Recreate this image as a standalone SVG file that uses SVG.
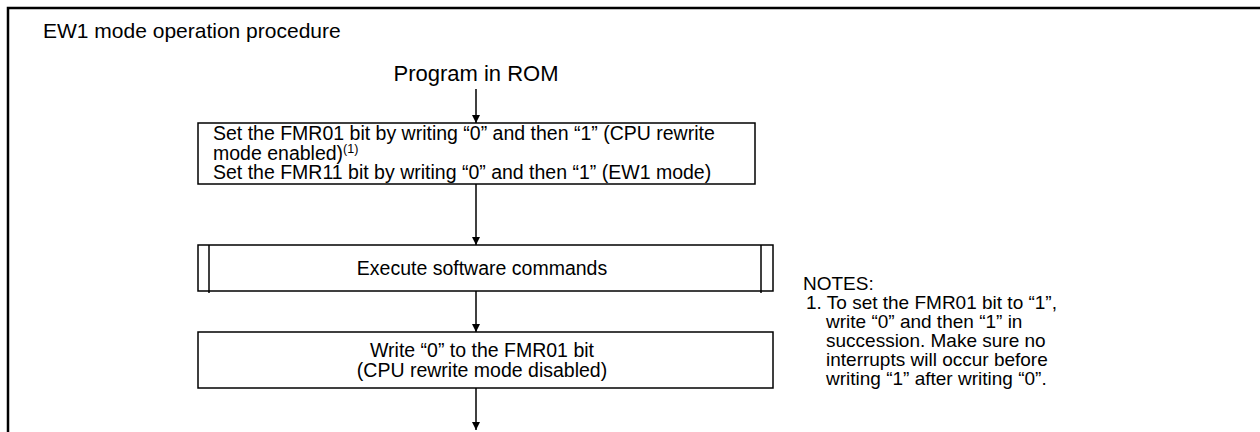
<svg xmlns="http://www.w3.org/2000/svg" width="1260" height="432" viewBox="0 0 1260 432">
<defs>
<style>
.t{font-family:"Liberation Sans",Arial,sans-serif;fill:#000}
.title{font-size:21px}
.prog{font-size:22px}
.b{font-size:19.5px}
.n{font-size:19px}
.sup{font-size:12.5px}
.box{fill:#fff;stroke:#000;stroke-width:1.5}
.ln{stroke:#000;stroke-width:1.5;fill:none}
</style>
<marker id="ah" viewBox="0 0 10 10" refX="10" refY="5" markerWidth="8" markerHeight="8" markerUnits="userSpaceOnUse" orient="auto">
<path d="M0,0 L10,5 L0,10 z" fill="#000"/>
</marker>
</defs>
<rect width="1260" height="432" fill="#fff"/>
<path d="M8,440 V8 H1270" fill="none" stroke="#000" stroke-width="2.5"/>
<text class="t title" x="43" y="38">EW1 mode operation procedure</text>
<g id="start"><text class="t prog" x="476" y="81" text-anchor="middle">Program in ROM</text></g>
<g id="connectors">
<line class="ln" x1="476" y1="89" x2="476" y2="123" marker-end="url(#ah)"/>
<line class="ln" x1="476" y1="184" x2="476" y2="245" marker-end="url(#ah)"/>
<line class="ln" x1="476" y1="291" x2="476" y2="332" marker-end="url(#ah)"/>
<line class="ln" x1="476" y1="388" x2="476" y2="430" marker-end="url(#ah)"/>
</g>
<g id="box1">
<rect class="box" x="198" y="123" width="557" height="61"/>
<text class="t b" x="213" y="140">Set the FMR01 bit by writing “0” and then “1” (CPU rewrite</text>
<text class="t b" x="213" y="159.5">mode enabled)<tspan class="sup" dy="-6.5">(1)</tspan></text>
<text class="t b" x="213" y="179">Set the FMR11 bit by writing “0” and then “1” (EW1 mode)</text>
</g>
<g id="box2">
<rect class="box" x="198" y="245" width="575" height="46"/>
<line class="ln" x1="209" y1="245" x2="209" y2="293"/>
<line class="ln" x1="761" y1="245" x2="761" y2="293"/>
<text class="t b" x="482" y="275" text-anchor="middle">Execute software commands</text>
</g>
<g id="box3">
<rect class="box" x="198" y="332" width="575" height="56"/>
<text class="t b" x="482" y="357" text-anchor="middle">Write “0” to the FMR01 bit</text>
<text class="t b" x="482" y="377" text-anchor="middle">(CPU rewrite mode disabled)</text>
</g>
<g id="notes">
<text class="t n" x="803" y="290">NOTES:</text>
<text class="t n" x="806" y="309">1. To set the FMR01 bit to “1”,</text>
<text class="t n" x="826" y="328">write “0” and then “1” in</text>
<text class="t n" x="826" y="347">succession. Make sure no</text>
<text class="t n" x="826" y="366">interrupts will occur before</text>
<text class="t n" x="826" y="385">writing “1” after writing “0”.</text>
</g>
</svg>
